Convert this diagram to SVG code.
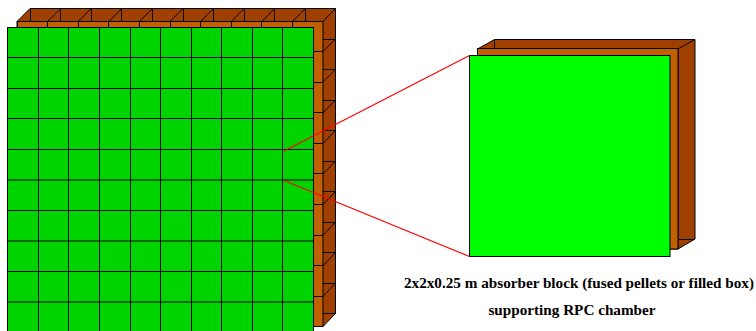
<svg xmlns="http://www.w3.org/2000/svg" width="756" height="331" viewBox="0 0 756 331">
<style>
.back{fill:#a04000;stroke:#000;stroke-width:1}
.front{fill:#c06000;stroke:#000;stroke-width:1}
.bright{fill:#00ff00;stroke:#000;stroke-width:1}
.cell{fill:#00d400;stroke:#000;stroke-width:1}
.e{fill:none;stroke:#000;stroke-width:1}
.r{fill:none;stroke:#ff0000;stroke-width:1.2}
text{font-family:"Liberation Serif","Times New Roman",serif;font-weight:bold;font-size:15.2px;text-anchor:middle;fill:#000}
</style>
<rect width="756" height="331" fill="#fff"/>
<g id="absorber-wall">
<path class="back" d="M17 21.500 30 8.500H335.500V313.500L323 326.500H17Z"/>
<path class="e" d="M30.500 8.500V21M60.500 8.500V21M91.500 8.500V21M121.500 8.500V21M152.500 8.500V21M183.500 8.500V21M213.500 8.500V21M244.500 8.500V21M274.500 8.500V21M305.500 8.500V21"/>
<path class="e" d="M47.600 21.500 60.600 8.500M78.200 21.500 91.200 8.500M108.800 21.500 121.800 8.500M139.400 21.500 152.400 8.500M170 21.500 183 8.500M200.600 21.500 213.600 8.500M231.200 21.500 244.200 8.500M261.800 21.500 274.800 8.500M292.400 21.500 305.400 8.500M323 21.500 335.500 8.500"/>
<path class="e" d="M323 39.500H335.500M323 69.500H335.500M323 100.500H335.500M323 130.500H335.500M323 161.500H335.500M323 191.500H335.500M323 222.500H335.500M323 252.500H335.500M323 283.500H335.500M323 313.500H335.500"/>
<path class="e" d="M323 51.600 335.500 39M323 82 335.500 69.500M323 112.800 335.500 100M323 143.400 335.500 130.500M323 174 335.500 161M323 204.600 335.500 191.500M323 235.200 335.500 222M323 265.800 335.500 252.500M323 296.400 335.500 283"/>
<rect class="front" x="17.500" y="21.500" width="305.500" height="305"/>
<path class="e" d="M47.500 21.500V27M78.500 21.500V27M108.500 21.500V27M139.500 21.500V27M170.500 21.500V27M200.500 21.500V27M231.500 21.500V27M261.500 21.500V27M292.500 21.500V27"/>
<path class="e" d="M314 51.500H323M314 82.500H323M314 112.500H323M314 143.500H323M314 173.500H323M314 204.500H323M314 235.500H323M314 265.500H323M314 296.500H323"/>
<g>
<rect class="cell" x="7.500" y="27.500" width="306" height="310"/>
<path class="e" d="M38.500 27.500V331M68.500 27.500V331M99.500 27.500V331M130.500 27.500V331M160.500 27.500V331M191.500 27.500V331M221.500 27.500V331M252.500 27.500V331M282.500 27.500V331"/>
<path class="e" d="M7.500 57.500H313.500M7.500 88.500H313.500M7.500 118.500H313.500M7.500 149.500H313.500M7.500 180H313.500M7.500 210.500H313.500M7.500 241H313.500M7.500 271.500H313.500M7.500 302H313.500"/>
</g>
</g>
<g id="absorber-block">
<path class="back" d="M477.500 49 494.500 39.500H695L695 239 678 249H477.500Z"/>
<path class="e" d="M494.500 39.500V49M678 49 695 39.500M678 49V249M678 239.500H695"/>
<rect class="front" x="477.500" y="48.500" width="200.500" height="200.500"/>
<rect class="bright" x="469.500" y="55.500" width="200.500" height="201"/>
</g>
<g id="connectors">
<path class="r" d="M284 151 469.500 55.500M284 180.500 469.500 256.500"/>
</g>
<g id="caption">
<text x="579" y="288">2x2x0.25 m absorber block (fused pellets or filled box)</text>
<text x="572" y="315">supporting RPC chamber</text>
</g>
</svg>
